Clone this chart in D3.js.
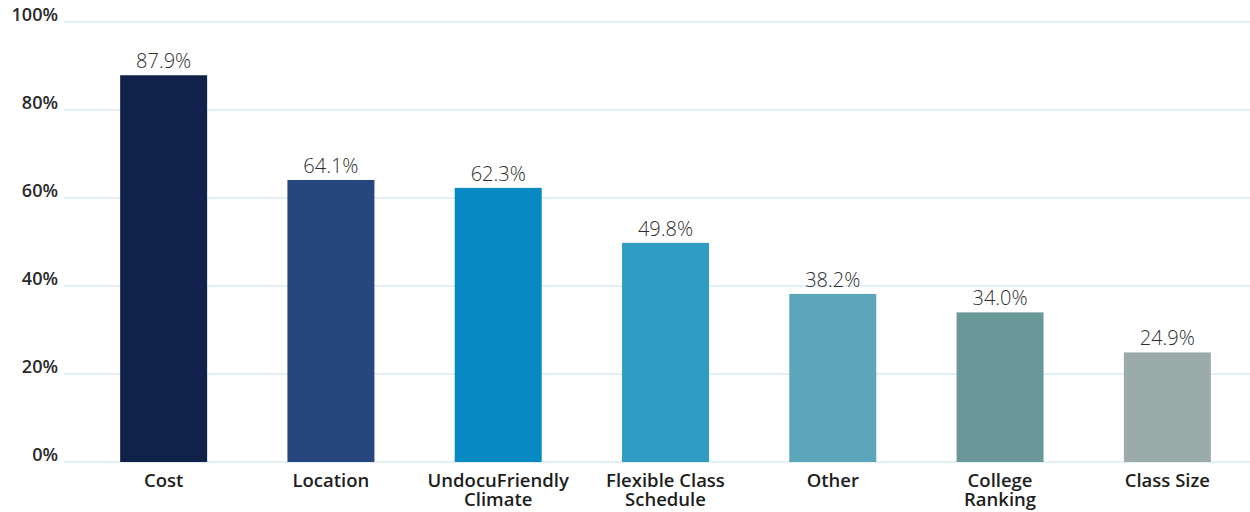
<!DOCTYPE html>
<html><head><meta charset="utf-8">
<script src="https://cdn.jsdelivr.net/npm/d3@7"></script>
<style>body{margin:0;background:#fff}svg{display:block}</style>
</head><body>
<svg id="chart" width="1250" height="512"></svg>
<script>
const categories = [["Cost"],["Location"],["UndocuFriendly","Climate"],["Flexible Class","Schedule"],["Other"],["College","Ranking"],["Class Size"]];
const values = [87.9, 64.1, 62.3, 49.8, 38.2, 34.0, 24.9];
const colors = ["#11224a","#26467f","#0789c2","#2e9cc3","#5ba6ba","#6a9798","#9aabaa"];
const yTicks = [0, 20, 40, 60, 80, 100];

const svg = d3.select("#chart");
const keys = categories.map((c,i)=>i);
const x = d3.scaleBand().domain(keys).range([80, 1251]).paddingInner(0.48).paddingOuter(0.24);
const y = d3.scaleLinear().domain([0, 100]).range([462, 22]);

svg.append("g").selectAll("line").data(yTicks).join("line")
  .attr("x1",64).attr("x2",1250).attr("y1",d=>y(d)).attr("y2",d=>y(d))
  .attr("stroke","#dcebf3").attr("stroke-width",1.5);

const yAxis = d3.axisLeft(y).tickValues(yTicks).tickFormat(d => d + "%").tickSize(0).tickPadding(0);
const gy = svg.append("g").attr("transform","translate(58,0)").call(yAxis);
gy.select(".domain").remove();
gy.selectAll("text").attr("font-family","'Open Sans', sans-serif").attr("font-size",18).attr("font-weight",600).attr("fill","#2a2a2a").attr("dy","-0.1em");

svg.append("g").selectAll("rect").data(values).join("rect")
  .attr("x",(d,i)=>x(i)).attr("width",x.bandwidth())
  .attr("y",d=>y(d)).attr("height",d=>y(0)-y(d))
  .attr("fill",(d,i)=>colors[i]);

svg.append("g").selectAll("text").data(values).join("text")
  .attr("x",(d,i)=>x(i)+x.bandwidth()/2).attr("y",d=>y(d)-7)
  .attr("text-anchor","middle").attr("font-family","'Open Sans', sans-serif")
  .attr("font-size",20).attr("font-weight",300).attr("fill","#2e2e2e")
  .text(d=>d.toFixed(1)+"%");

const xg = svg.append("g");
categories.forEach((lines,i)=>{
  lines.forEach((t,j)=>{
    xg.append("text")
      .attr("x",x(i)+x.bandwidth()/2).attr("y",487 + j*19)
      .attr("text-anchor","middle").attr("font-family","'Open Sans', sans-serif")
      .attr("font-size",18.5).attr("font-weight",600).attr("fill","#1e1e1e")
      .text(t);
  });
});
</script>
</body></html>
